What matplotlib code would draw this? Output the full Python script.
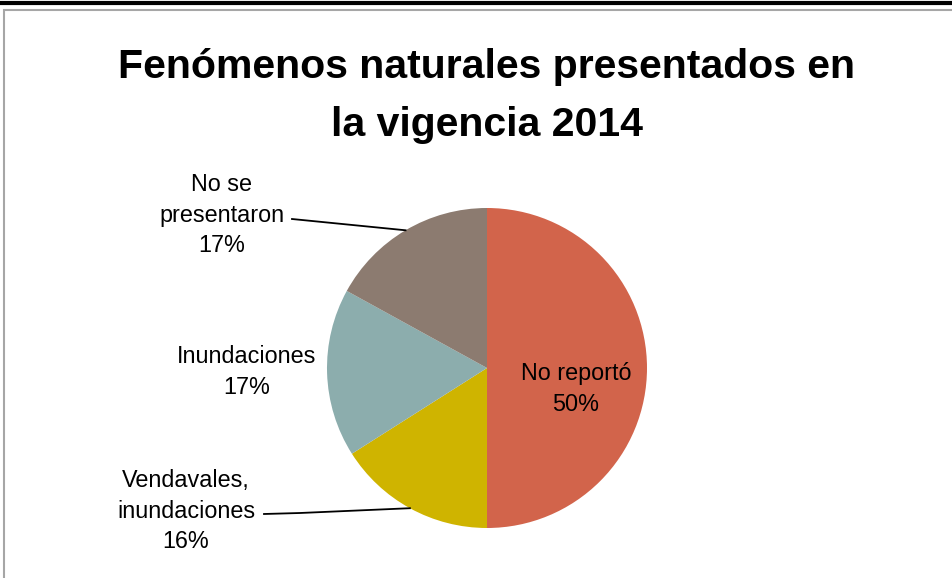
import numpy as np
import matplotlib.pyplot as plt
from matplotlib.patches import Rectangle

categories = ["No reportó", "Vendavales,\ninundaciones", "Inundaciones", "No se\npresentaron"]
values = [50, 16, 17, 17]
colors = ["#D2644B", "#CFB400", "#8CADAD", "#8C7B70"]

title = "Fenómenos naturales presentados en\nla vigencia 2014"

W, H = 953, 578
plt.rcParams['font.family'] = ['Liberation Sans', 'DejaVu Sans']

fig = plt.figure(figsize=(W / 100, H / 100), dpi=100)
ax = fig.add_axes([0, 0, 1, 1])

# frame and top rule
ax.add_patch(Rectangle((4, -50), W + 50, H - 10 + 50, fill=False,
                       edgecolor="#A6A6A6", lw=1.5))
ax.plot([0, W], [H - 3, H - 3], color="black", lw=3, solid_capstyle='butt')

cx, cy, r = 487, H - 368, 160
wedges, _ = ax.pie(values, colors=colors, startangle=90, counterclock=False,
                   center=(cx, cy), radius=r, frame=True)
ax.set_xlim(0, W)
ax.set_ylim(0, H)
ax.set_aspect('equal')
ax.axis('off')

fig.text(487 / W, 1 - 96 / H, title, ha='center', va='center', fontsize=29.5,
         fontweight='bold', linespacing=1.68)

lab_size = 16.8
ls = 1.42
pct = [f"{v}%" for v in values]

# inside label
ax.text(576, H - 389, categories[0] + "\n" + pct[0], ha='center', va='center',
        fontsize=lab_size, linespacing=ls)

# outside labels
ax.text(186, H - 511, categories[1] + "\n" + pct[1], ha='center', va='center',
        fontsize=lab_size, linespacing=ls)
ax.text(247, H - 372, categories[2] + "\n" + pct[2], ha='center', va='center',
        fontsize=lab_size, linespacing=ls)
ax.text(222, H - 215, categories[3] + "\n" + pct[3], ha='center', va='center',
        fontsize=lab_size, linespacing=ls)


def edge_point(w):
    a = np.deg2rad((w.theta1 + w.theta2) / 2)
    return cx + r * np.cos(a), cy + r * np.sin(a)


ex, ey = edge_point(wedges[3])
ax.plot([292, ex], [H - 219, ey], color="black", lw=1.3)
ex, ey = edge_point(wedges[1])
ax.plot([264, 300, ex], [H - 514, H - 513, ey], color="black", lw=1.3)

plt.savefig("out.png", dpi=100)
plt.close()
